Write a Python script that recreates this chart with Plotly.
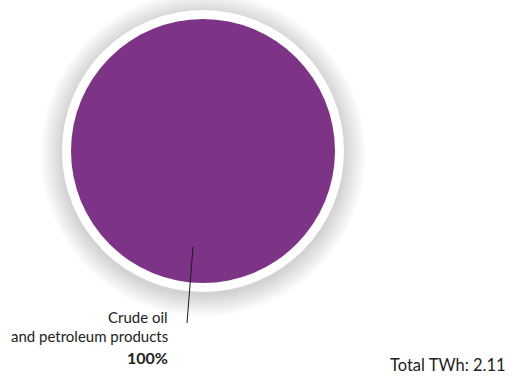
import plotly.graph_objects as go

# Energy source breakdown
sources = ["Crude oil<br>and petroleum products"]
values_twh = [2.11]
colors = ["#7e3486"]

W, H = 514, 376
total = sum(values_twh)
shares = [v / total * 100 for v in values_twh]

# pie placement in pixels
cx, cy, r = 203, 151, 132


def px_x(x):
    return x / W


def px_y(y):
    return 1 - y / H


fig = go.Figure()
fig.add_trace(go.Pie(
    labels=sources,
    values=values_twh,
    marker=dict(colors=colors, line=dict(width=0)),
    textinfo="none",
    hoverinfo="label+percent",
    sort=False,
    showlegend=False,
    domain=dict(x=[px_x(cx - r), px_x(cx + r)], y=[px_y(cy + r), px_y(cy - r)]),
))

shapes = []
rw = r + 9
# soft grey halo behind the white rim
n_halo = 22
for i in range(n_halo):
    rr = rw + n_halo - i
    shapes.append(dict(
        type="circle", xref="paper", yref="paper", layer="below",
        x0=px_x(cx - rr), x1=px_x(cx + rr), y0=px_y(cy + 3 + rr), y1=px_y(cy + 3 - rr),
        fillcolor="rgba(0,0,0,0.009)", line=dict(width=0),
    ))
# white rim
shapes.append(dict(
    type="circle", xref="paper", yref="paper", layer="below",
    x0=px_x(cx - rw), x1=px_x(cx + rw), y0=px_y(cy + rw), y1=px_y(cy - rw),
    fillcolor="white", line=dict(width=0),
))
# leader line for the slice label
shapes.append(dict(
    type="line", xref="paper", yref="paper", layer="above",
    x0=px_x(193), y0=px_y(247), x1=px_x(187), y1=px_y(323),
    line=dict(color="#1a1a1a", width=1),
))

family = "Lato, Noto Sans, sans-serif"
ink = "#222222"
label_lines = sources[0].split("<br>")
annotations = []
for line, y in zip(label_lines, [316.5, 336]):
    annotations.append(dict(
        text=line, xref="paper", yref="paper", x=px_x(170), y=px_y(y),
        xanchor="right", yanchor="middle", showarrow=False,
        font=dict(family=family, size=15, color=ink),
    ))
annotations.append(dict(
    text=f"<b>{shares[0]:.0f}%</b>", xref="paper", yref="paper", x=px_x(170), y=px_y(357),
    xanchor="right", yanchor="middle", showarrow=False,
    font=dict(family=family, size=16, color=ink),
))
annotations.append(dict(
    text=f"Total TWh: {total:.2f}", xref="paper", yref="paper", x=px_x(507), y=0,
    xanchor="right", yanchor="bottom", showarrow=False, borderpad=0,
    font=dict(family=family, size=16.5, color=ink),
))

fig.update_layout(
    width=W, height=H,
    margin=dict(l=0, r=0, t=0, b=0),
    paper_bgcolor="white", plot_bgcolor="white",
    shapes=shapes, annotations=annotations,
)

fig.write_html("out.html")
